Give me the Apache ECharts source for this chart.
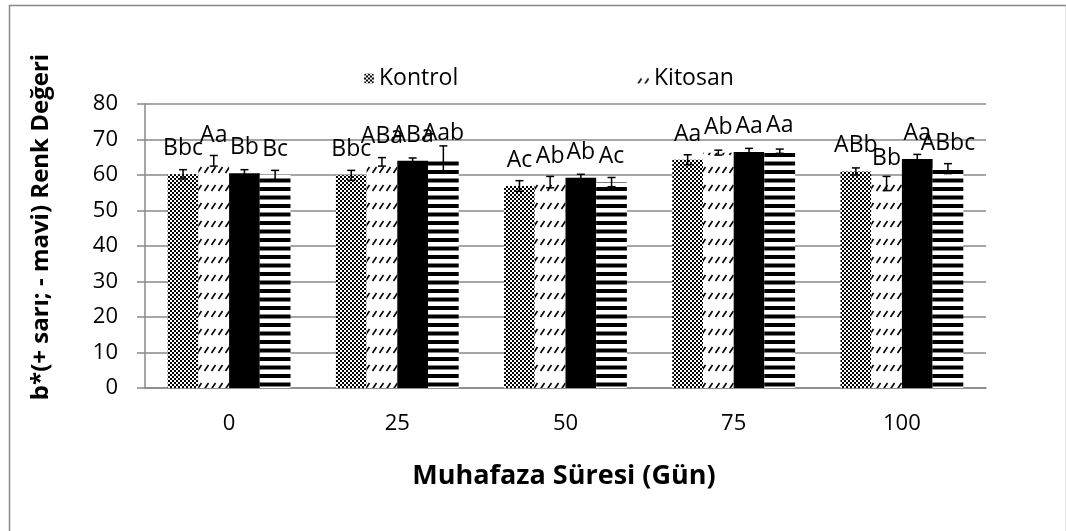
<!DOCTYPE html>
<html>
<head>
<meta charset="utf-8">
<script src="https://cdn.jsdelivr.net/npm/echarts@6/dist/echarts.min.js"></script>
<style>
html,body{margin:0;padding:0;background:#fff;}
#main{width:1066px;height:531px;}
</style>
</head>
<body>
<div id="main"></div>
<script>
const categories = ['0', '25', '50', '75', '100'];
const yTicks = [0, 10, 20, 30, 40, 50, 60, 70, 80];

const kontrol    = [60.2, 59.9, 56.9, 64.3, 61.0];
const kontrolErr = [1.3, 1.4, 1.5, 1.4, 1.0];
const kontrolLbl = ['Bbc', 'Bbc', 'Ac', 'Aa', 'ABb'];

const kitosan    = [64.0, 63.7, 58.0, 66.3, 57.6];
const kitosanErr = [1.5, 1.2, 1.6, 0.7, 2.0];
const kitosanLbl = ['Aa', 'ABa', 'Ab', 'Ab', 'Bb'];

const seri3      = [60.5, 64.0, 59.2, 66.5, 64.5];
const seri3Err   = [1.0, 0.8, 1.0, 1.0, 1.3];
const seri3Lbl   = ['Bb', 'ABa', 'Ab', 'Aa', 'Aa'];

const seri4      = [60.0, 64.4, 58.0, 66.7, 61.8];
const seri4Err   = [1.3, 3.8, 1.3, 0.6, 1.4];
const seri4Lbl   = ['Bc', 'Aab', 'Ac', 'Aa', 'ABbc'];

const FONT = '"Open Sans", "Noto Sans", sans-serif';
const GAP = 0.27;

function makePattern(w, h, draw) {
  const c = document.createElement('canvas');
  c.width = w; c.height = h;
  const ctx = c.getContext('2d');
  ctx.fillStyle = '#fff';
  ctx.fillRect(0, 0, w, h);
  draw(ctx);
  return { image: c, repeat: 'repeat' };
}
const checker = makePattern(4, 4, ctx => {
  ctx.fillStyle = '#000';
  ctx.fillRect(0, 0, 2, 2);
  ctx.fillRect(2, 2, 2, 2);
});
const hatch = makePattern(7, 18, ctx => {
  ctx.strokeStyle = '#000';
  ctx.lineWidth = 1.6;
  ctx.beginPath();
  ctx.moveTo(1.5, 11);
  ctx.lineTo(5.5, 5);
  ctx.stroke();
});
const stripes = makePattern(4, 17, ctx => {
  ctx.fillStyle = '#000';
  ctx.fillRect(0, 0, 4, 4);
  ctx.fillRect(0, 8.5, 4, 4);
});

const seriesDefs = [
  { name: 'Kontrol', vals: kontrol, err: kontrolErr, lbl: kontrolLbl, color: checker },
  { name: 'Kitosan', vals: kitosan, err: kitosanErr, lbl: kitosanLbl, color: hatch },
  { name: 'Seri 3', vals: seri3, err: seri3Err, lbl: seri3Lbl, color: '#000' },
  { name: 'Seri 4', vals: seri4, err: seri4Err, lbl: seri4Lbl, color: stripes }
];

const series = [];
seriesDefs.forEach((s, si) => {
  series.push({
    type: 'bar',
    name: s.name,
    data: s.vals,
    barGap: '0%',
    barCategoryGap: (GAP * 100) + '%',
    itemStyle: { color: s.color },
    label: {
      show: true,
      position: 'top',
      distance: 14,
      color: '#000',
      fontFamily: FONT,
      fontSize: 23,
      formatter: p => s.lbl[p.dataIndex]
    },
    z: 2
  });
});
seriesDefs.forEach((s, si) => {
  series.push({
    type: 'custom',
    name: s.name + ' err',
    z: 5,
    silent: true,
    data: s.vals.map((v, i) => [i, v - s.err[i], v + s.err[i]]),
    renderItem: (params, api) => {
      const ci = api.value(0);
      const lo = api.coord([ci, api.value(1)]);
      const hi = api.coord([ci, api.value(2)]);
      const band = api.size([1, 0])[0];
      const bw = band * (1 - GAP) / 4;
      const cx = lo[0] + (si - 1.5) * bw;
      const cap = 4;
      const st = { stroke: '#000', lineWidth: 1.5 };
      return {
        type: 'group',
        children: [
          { type: 'line', shape: { x1: cx, y1: lo[1], x2: cx, y2: hi[1] }, style: st },
          { type: 'line', shape: { x1: cx - cap, y1: lo[1], x2: cx + cap, y2: lo[1] }, style: st },
          { type: 'line', shape: { x1: cx - cap, y1: hi[1], x2: cx + cap, y2: hi[1] }, style: st }
        ]
      };
    }
  });
});

const chart = echarts.init(document.getElementById('main'), null, { renderer: 'canvas' });
chart.setOption({
  animation: false,
  backgroundColor: '#fff',
  grid: { left: 145, right: 80, top: 104, bottom: 143 },
  legend: [
    {
      data: ['Kontrol'], left: 359, top: 62, itemWidth: 10, itemHeight: 10, itemGap: 4,
      textStyle: { fontFamily: FONT, fontSize: 23, color: '#000' }, selectedMode: false
    },
    {
      data: ['Kitosan'], left: 631, top: 62, itemWidth: 13, itemHeight: 10, itemGap: 4,
      textStyle: { fontFamily: FONT, fontSize: 23, color: '#000' }, selectedMode: false
    }
  ],
  xAxis: {
    type: 'category',
    data: categories,
    axisLine: { lineStyle: { color: '#888', width: 1.5 } },
    axisTick: { show: false },
    axisLabel: { margin: 25, color: '#000', fontFamily: FONT, fontSize: 22 }
  },
  yAxis: {
    type: 'value',
    min: yTicks[0],
    max: yTicks[yTicks.length - 1],
    interval: yTicks[1] - yTicks[0],
    axisLine: { show: true, lineStyle: { color: '#888', width: 1.5 } },
    axisTick: { show: true, inside: false, length: 8, lineStyle: { color: '#888', width: 1.5 } },
    splitLine: { lineStyle: { color: '#888', width: 1.5 } },
    axisLabel: { margin: 27, color: '#000', fontFamily: FONT, fontSize: 22 }
  },
  graphic: [
    {
      type: 'rect', left: 7, top: 3, silent: true,
      shape: { width: 1057, height: 600 },
      style: { fill: 'none', stroke: '#888', lineWidth: 1.5 }
    },
    {
      type: 'text', x: 41, y: 227, rotation: Math.PI / 2,
      style: {
        text: 'b*(+ sarı; - mavi) Renk Değeri', fontFamily: FONT, fontWeight: 'bold',
        fontSize: 24, fill: '#000', align: 'center', verticalAlign: 'middle'
      }
    },
    {
      type: 'text', x: 564, y: 476,
      style: {
        text: 'Muhafaza Süresi (Gün)', fontFamily: FONT, fontWeight: 'bold',
        fontSize: 27, fill: '#000', align: 'center', verticalAlign: 'middle'
      }
    }
  ],
  series: series
});
</script>
</body>
</html>
